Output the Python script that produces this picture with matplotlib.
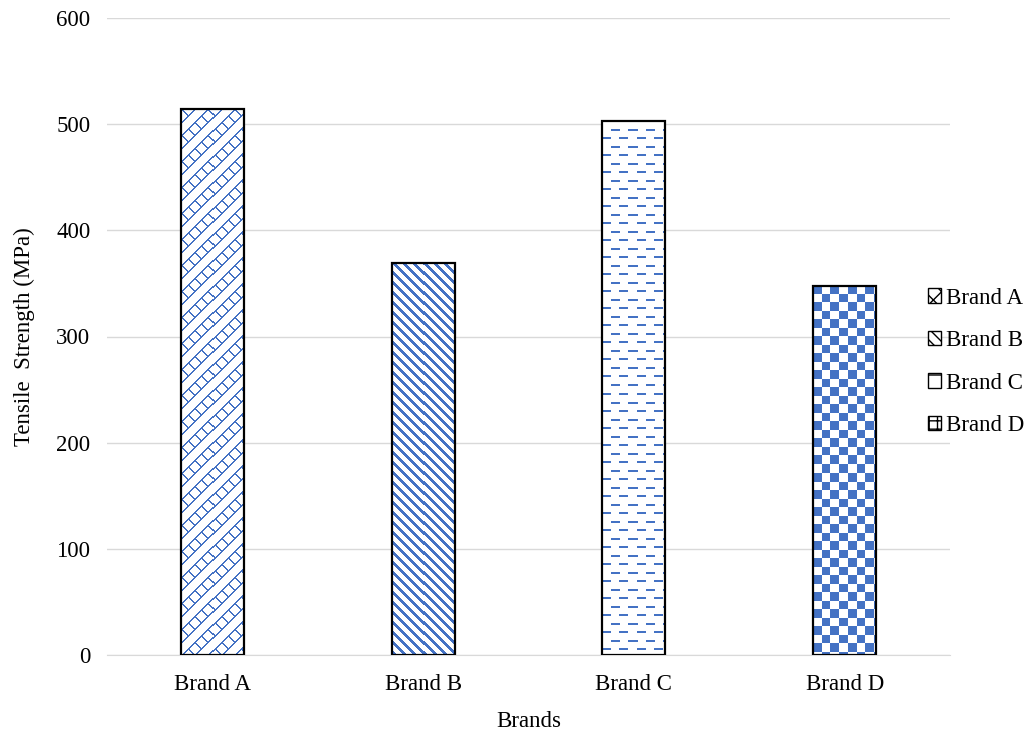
import numpy as np
import matplotlib
matplotlib.use("Agg")
import matplotlib.pyplot as plt
from matplotlib.patches import Patch

plt.rcParams['font.family'] = ['Liberation Serif', 'DejaVu Serif']

brands = ["Brand A", "Brand B", "Brand C", "Brand D"]
strength = [514, 369, 503, 348]

BLUE = np.array([68, 114, 196]) / 255.0
DPI = 100
FS = 16.5


def texture(kind, h, w):
    # pixel pattern in RGBA, blue ink on white
    i, j = np.mgrid[0:h, 0:w]
    if kind == "brick":
        m = ((i + j) % 13 < 1.2) | (((j - i) % 13 < 1.2) & ((i + j) % 26 < 13))
    elif kind == "diag":
        m = (j - i) % 10 < 4
    elif kind == "dash":
        band = (i // 8.5).astype(int)
        shift = np.where(band % 2 == 0, 0, 8.5)
        m = ((i % 8.5) < 2) & (((j + shift) % 17) < 9)
    else:
        m = ((i // 8.5).astype(int) + (j // 8.5).astype(int)) % 2 == 0
    img = np.ones((h, w, 4))
    img[m, :3] = BLUE
    return img


kinds = ["brick", "diag", "dash", "check"]

fig = plt.figure(figsize=(10.34, 7.34), dpi=DPI)
ax = fig.add_axes([107 / 1034, 79 / 734, 843 / 1034, 637 / 734])

x = np.arange(len(brands))
width = 0.3
bars = ax.bar(x, strength, width, facecolor="none", edgecolor="black",
              linewidth=1.6, zorder=3)

px_per_y = 637 / 600
px_per_x = 843 / 4
for b, kind in zip(bars, kinds):
    h = int(round(b.get_height() * px_per_y))
    w = int(round(width * px_per_x))
    x0 = b.get_x()
    im = ax.imshow(texture(kind, h, w), extent=(x0, x0 + width, 0, b.get_height()),
                   interpolation="nearest", aspect="auto", zorder=2)
    im.set_clip_path(b)
ax.set_xlim(-0.5, 3.5)
ax.set_ylim(0, 600)

ax.set_yticks(np.arange(0, 601, 100))
ax.set_xticks(x)
ax.set_xticklabels(brands)
ax.tick_params(length=0, labelsize=FS)
ax.tick_params(axis="x", pad=14)
ax.tick_params(axis="y", pad=12)
ax.grid(axis="y", color="#D9D9D9", linewidth=1, zorder=0)
ax.set_axisbelow(True)
for s in ["top", "right", "left"]:
    ax.spines[s].set_visible(False)
ax.spines["bottom"].set_color("#D9D9D9")

ax.set_ylabel("Tensile  Strength (MPa)", fontsize=FS, labelpad=15)
ax.set_xlabel("Brands", fontsize=FS, labelpad=11)

hatches = ["xx", "\\\\\\", "-", "++"]
handles = [Patch(facecolor="white", edgecolor="black", hatch=h, label=n)
           for h, n in zip(hatches, brands)]
ax.legend(handles=handles, loc="center left", bbox_to_anchor=(0.949, 0.46),
          frameon=False, fontsize=FS, handlelength=0.6, handleheight=0.6,
          handletextpad=0.2, labelspacing=0.94)

fig.savefig("out.png", dpi=DPI)
